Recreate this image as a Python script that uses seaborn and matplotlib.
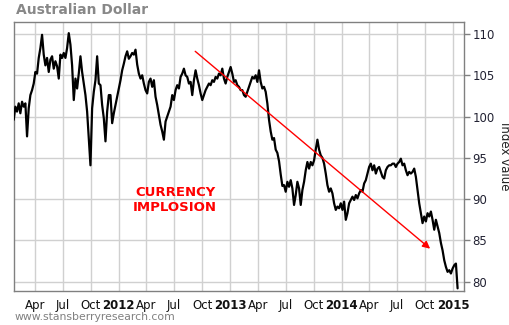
import matplotlib
matplotlib.use("Agg")
import matplotlib.pyplot as plt
import seaborn as sns
import pandas as pd

# Australian Dollar index, sampled roughly every 5-6 days
start_date = "2011-01-22"
end_date = "2015-01-16"
index_values = [
    99.6, 101.2, 100.6, 101.6, 100.4, 101.8, 101.2, 101.6, 97.6, 101.0,
    102.6, 103.2, 104.0, 105.4, 105.2, 107.1, 108.3, 109.9, 107.5, 106.2,
    107.1, 105.4, 106.9, 107.3, 105.8, 106.7, 106.1, 104.6, 107.5, 107.1,
    107.7, 107.1, 108.3, 110.1, 108.7, 106.2, 102.0, 104.6, 103.4, 105.2,
    107.3, 105.4, 104.0, 102.6, 100.6, 97.4, 94.1, 101.0, 103.0, 104.4,
    107.3, 104.0, 103.8, 101.4, 99.8, 97.0, 100.6, 102.6, 102.6, 99.2,
    100.4, 101.4, 102.4, 103.4, 104.4, 105.6, 106.4, 107.3, 107.9, 107.0,
    107.3, 107.7, 107.5, 108.1, 106.3, 105.2, 104.6, 105.0, 104.0, 103.2,
    102.8, 104.2, 104.6, 103.6, 104.4, 102.4, 101.4, 100.2, 99.0, 98.2,
    97.2, 99.4, 100.0, 100.6, 101.2, 102.6, 102.0, 103.2, 103.8, 103.4,
    104.8, 105.2, 105.8, 105.0, 104.8, 104.0, 104.2, 102.6, 104.4, 105.6,
    104.6, 103.8, 102.8, 102.0, 102.6, 103.2, 103.6, 104.0, 103.8, 104.4,
    104.2, 104.8, 104.6, 105.2, 105.0, 105.8, 104.6, 104.0, 104.8, 105.4,
    106.0, 105.2, 104.2, 104.4, 103.8, 103.6, 103.2, 103.2, 102.6, 102.4,
    103.0, 103.6, 104.2, 104.8, 104.6, 105.0, 104.2, 105.6, 104.2, 103.4,
    103.6, 103.0, 101.6, 99.6, 98.2, 97.2, 97.4, 96.0, 95.6, 94.6,
    93.0, 91.6, 91.7, 90.9, 92.1, 91.5, 92.3, 91.3, 89.3, 90.5,
    92.1, 91.3, 89.3, 91.1, 92.1, 93.5, 94.5, 93.7, 94.5, 94.1,
    94.7, 96.0, 97.2, 96.0, 95.3, 95.0, 94.3, 93.1, 91.7, 90.9,
    91.3, 90.7, 89.5, 88.7, 89.1, 88.9, 89.5, 88.7, 89.7, 87.5,
    88.3, 89.5, 89.9, 90.3, 89.9, 90.5, 90.1, 90.7, 91.1, 90.9,
    91.9, 92.3, 93.1, 93.9, 94.3, 93.5, 94.1, 93.1, 93.7, 93.9,
    93.3, 92.7, 92.5, 93.5, 93.9, 94.1, 94.1, 94.3, 94.3, 93.9,
    94.3, 94.5, 94.9, 94.1, 94.3, 93.5, 92.9, 93.3, 93.1, 93.3,
    93.7, 92.7, 91.1, 89.5, 88.3, 87.1, 87.9, 87.3, 88.3, 87.9,
    88.5, 87.5, 86.3, 87.5, 86.7, 85.9, 84.7, 83.8, 82.6, 81.8,
    81.2, 81.4, 81.0, 81.6, 82.0, 82.2, 79.2,
]

# quarterly ticks; January ticks carry the year in bold
tick_dates = ["2011-04-01", "2011-07-01", "2011-10-01", "2012-01-01",
              "2012-04-01", "2012-07-01", "2012-10-01", "2013-01-01",
              "2013-04-01", "2013-07-01", "2013-10-01", "2014-01-01",
              "2014-04-01", "2014-07-01", "2014-10-01", "2015-01-01"]
tick_labels = ["Apr", "Jul", "Oct", "2012", "Apr", "Jul", "Oct", "2013",
               "Apr", "Jul", "Oct", "2014", "Apr", "Jul", "Oct", "2015"]
y_ticks = [80, 85, 90, 95, 100, 105, 110]

# trend arrow endpoints (date, value)
arrow_start = ("2012-09-08", 107.9)
arrow_end = ("2014-10-18", 84.0)

sns.set_style("white")
plt.rcParams["font.family"] = ["DejaVu Sans"]

dates = pd.date_range(start_date, end_date, periods=len(index_values))
df = pd.DataFrame({"date": dates, "value": index_values})

fig = plt.figure(figsize=(5.10, 3.25), dpi=100)
ax = fig.add_axes([14 / 510, 1 - 291 / 325, 450 / 510, 269 / 325])

sns.lineplot(data=df, x="date", y="value", ax=ax, color="black",
             linewidth=1.6, zorder=3)

ax.set_xlim(pd.Timestamp("2011-01-23"), pd.Timestamp("2015-02-06"))
ax.set_ylim(78.88, 111.45)

ax.set_xticks(pd.to_datetime(tick_dates))
ax.set_xticklabels(tick_labels)
for lbl in ax.get_xticklabels():
    if lbl.get_text().isdigit():
        lbl.set_fontweight("bold")

ax.yaxis.tick_right()
ax.yaxis.set_label_position("right")
ax.set_yticks(y_ticks)
ax.set_xlabel("")
ax.set_ylabel("Index value", rotation=270, labelpad=12, fontsize=8.5,
              color="#222222")

ax.grid(True, color="#d0d0d0", linewidth=1.0, zorder=0)
for s in ax.spines.values():
    s.set_color("#808080")
    s.set_linewidth(1.0)
ax.tick_params(axis="x", direction="out", length=4, width=1,
               color="#808080", labelsize=8.5, labelcolor="#111111", pad=2)
ax.tick_params(axis="y", direction="out", length=4, width=1,
               color="#808080", labelsize=8.5, labelcolor="#222233", pad=2,
               right=True, left=False)

ax.annotate("", xy=(pd.Timestamp(arrow_end[0]), arrow_end[1]),
            xytext=(pd.Timestamp(arrow_start[0]), arrow_start[1]),
            arrowprops=dict(arrowstyle="-|>", color="red", lw=1.0,
                            mutation_scale=11, shrinkA=0, shrinkB=0),
            zorder=4)

ax.text(pd.Timestamp("2012-07-04"), 89.9, "CURRENCY\nIMPLOSION",
        color="red", fontsize=9.5, fontweight="bold", ha="center",
        va="center", linespacing=1.15)

fig.text(16 / 510, 1 - 10 / 325, "Australian Dollar", color="#888888",
         fontsize=10, fontweight="bold", ha="left", va="center")
fig.text(15 / 510, 1 - 317 / 325, "www.stansberryresearch.com",
         color="#808080", fontsize=7.8, ha="left", va="center")

fig.savefig("out.png", dpi=100)
